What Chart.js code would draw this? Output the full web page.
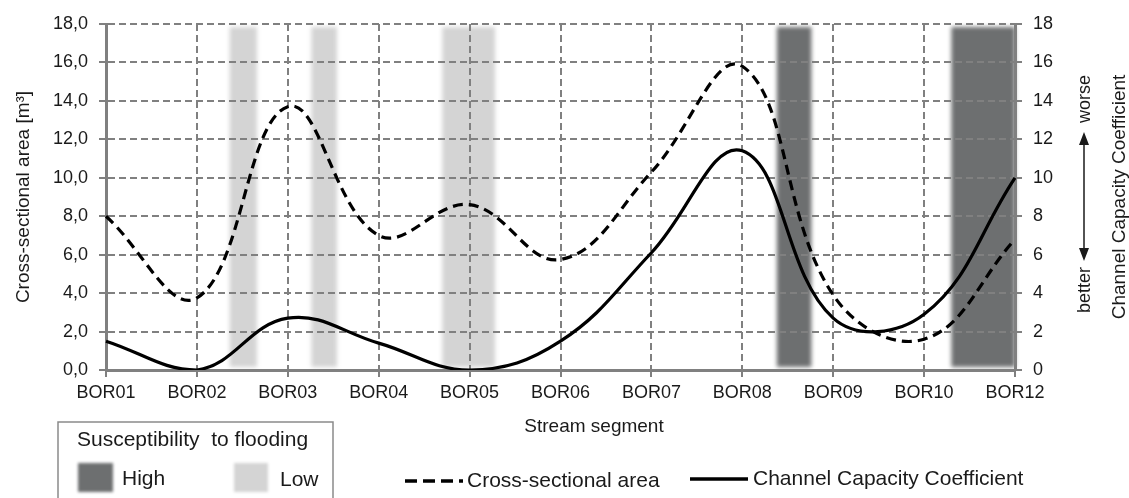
<!DOCTYPE html>
<html>
<head>
<meta charset="utf-8">
<script src="https://cdn.jsdelivr.net/npm/chart.js@4.4.1/dist/chart.umd.min.js"></script>
<style>
  body { margin: 0; background: #fff; }
  canvas { display: block; }
</style>
</head>
<body>
<canvas id="myChart" width="1129" height="498"></canvas>
<script>
// values
const segments = ['BOR01', 'BOR02', 'BOR03', 'BOR04', 'BOR05', 'BOR06', 'BOR07', 'BOR08', 'BOR09', 'BOR10', 'BOR12'];
const crossSectionalArea = [8.0, 3.75, 13.7, 7.0, 8.6, 5.75, 10.3, 15.8, 3.9, 1.6, 6.8];
const capacityCoefficient = [1.5, 0.0, 2.7, 1.4, 0.0, 1.5, 6.1, 11.4, 2.7, 2.9, 10.0];
const leftTicks = [0, 2, 4, 6, 8, 10, 12, 14, 16, 18];
const rightTicks = [0, 2, 4, 6, 8, 10, 12, 14, 16, 18];
// flooding susceptibility bands, given as positions on the segment axis (index units)
const highBands = [[7.38, 7.76], [9.30, 10.0]];
const lowBands = [[1.36, 1.66], [2.26, 2.54], [3.70, 4.28]];

const FONT = '"Liberation Sans", Arial, Helvetica, sans-serif';
const TEXT = '#1a1a1a';
const GRID = '#808080';
const HIGH_COLOR = '#6d6f70';
const LOW_COLOR = '#d4d4d4';

// shaded bands, painted under the grid
const bandsPlugin = {
    id: 'bands',
    beforeDraw(chart) {
        const ctx = chart.ctx;
        const x = chart.scales.x;
        const area = chart.chartArea;
        const paint = (bands, color) => {
            bands.forEach(b => {
                const x1 = x.getPixelForValue(b[0]);
                const x2 = x.getPixelForValue(b[1]);
                ctx.fillStyle = color;
                ctx.fillRect(x1, area.top + 3, x2 - x1, area.bottom - area.top - 6);
            });
        };
        ctx.save();
        ctx.filter = 'blur(2px)';
        paint(lowBands, LOW_COLOR);
        paint(highBands, HIGH_COLOR);
        ctx.restore();
    }
};

function rotatedText(ctx, text, x, y, size) {
    ctx.save();
    ctx.translate(x, y);
    ctx.rotate(-Math.PI / 2);
    ctx.font = size + 'px ' + FONT;
    ctx.textAlign = 'center';
    ctx.textBaseline = 'middle';
    ctx.fillText(text, 0, 0);
    ctx.restore();
}

// titles, the better/worse note and the two legends
const annotationsPlugin = {
    id: 'annotations',
    afterDraw(chart) {
        const ctx = chart.ctx;
        const area = chart.chartArea;
        const midY = (area.top + area.bottom) / 2;
        ctx.save();
        ctx.fillStyle = TEXT;

        rotatedText(ctx, 'Cross-sectional area [m³]', 24, midY, 19);
        rotatedText(ctx, 'Channel Capacity Coefficient', 1120, midY, 19);
        rotatedText(ctx, 'worse', 1085, 99, 18);
        rotatedText(ctx, 'better', 1085, 290, 18);

        // double arrow
        ctx.strokeStyle = TEXT;
        ctx.lineWidth = 1.5;
        ctx.beginPath();
        ctx.moveTo(1084, 140);
        ctx.lineTo(1084, 253);
        ctx.stroke();
        ctx.beginPath();
        ctx.moveTo(1084, 132); ctx.lineTo(1079, 145); ctx.lineTo(1089, 145); ctx.closePath();
        ctx.moveTo(1084, 261); ctx.lineTo(1079, 248); ctx.lineTo(1089, 248); ctx.closePath();
        ctx.fill();

        ctx.font = '19px ' + FONT;
        ctx.textAlign = 'center';
        ctx.textBaseline = 'alphabetic';
        ctx.fillText('Stream segment', 594, 432);

        // series legend
        const ds = chart.data.datasets;
        ctx.textAlign = 'left';
        ctx.textBaseline = 'middle';
        ctx.font = '21px ' + FONT;
        const items = [[ds[0], 405, 481, 467], [ds[1], 690, 479, 753]];
        items.forEach(it => {
            ctx.save();
            ctx.strokeStyle = it[0].borderColor;
            ctx.lineWidth = 3.5;
            ctx.setLineDash(it[0].borderDash ? [12, 6] : []);
            ctx.beginPath();
            ctx.moveTo(it[1], it[2]);
            ctx.lineTo(it[1] + 58, it[2]);
            ctx.stroke();
            ctx.restore();
            ctx.fillText(it[0].label, it[3], it[2]);
        });

        // susceptibility box
        ctx.strokeStyle = '#8a8a8a';
        ctx.lineWidth = 1.5;
        ctx.beginPath();
        ctx.moveTo(58, 500);
        ctx.lineTo(58, 422);
        ctx.lineTo(333, 422);
        ctx.lineTo(333, 500);
        ctx.stroke();
        ctx.fillText('Susceptibility  to flooding', 77, 440);
        ctx.save();
        ctx.filter = 'blur(1.5px)';
        ctx.fillStyle = HIGH_COLOR;
        ctx.fillRect(78, 463, 35, 29);
        ctx.fillStyle = LOW_COLOR;
        ctx.fillRect(234, 463, 34, 29);
        ctx.restore();
        ctx.fillText('High', 122, 479);
        ctx.fillText('Low', 280, 480);
        ctx.restore();
    }
};

const gridOpts = { color: GRID, lineWidth: 2, tickLength: 7, tickColor: GRID, tickWidth: 2 };
const borderOpts = { display: true, color: GRID, width: 3, dash: [7, 4] };

new Chart('myChart', {
    type: 'line',
    data: {
        labels: segments,
        datasets: [{
            label: 'Cross-sectional area',
            data: crossSectionalArea,
            yAxisID: 'y',
            borderColor: '#000',
            borderWidth: 3.2,
            borderDash: [10, 6],
            pointRadius: 0,
            tension: 0.4,
            fill: false
        }, {
            label: 'Channel Capacity Coefficient',
            data: capacityCoefficient,
            yAxisID: 'y1',
            borderColor: '#000',
            borderWidth: 3.2,
            pointRadius: 0,
            tension: 0.4,
            fill: false
        }]
    },
    options: {
        responsive: false,
        animation: false,
        layout: { padding: { top: 24, left: 0, right: 0, bottom: 0 } },
        plugins: {
            legend: { display: false },
            tooltip: { enabled: false }
        },
        scales: {
            x: {
                type: 'category',
                offset: false,
                grid: gridOpts,
                border: borderOpts,
                ticks: {
                    color: TEXT, font: { family: FONT, size: 18 },
                    padding: 5, maxRotation: 0, autoSkip: false
                },
                afterFit: s => { s.height = 128; }
            },
            y: {
                position: 'left',
                min: 0, max: 18,
                afterBuildTicks: s => { s.ticks = leftTicks.map(v => ({ value: v })); },
                grid: gridOpts,
                border: borderOpts,
                ticks: {
                    color: TEXT, font: { family: FONT, size: 18 }, padding: 11,
                    callback: v => v.toFixed(1).replace('.', ',')
                },
                afterFit: s => { s.width = 106; }
            },
            y1: {
                position: 'right',
                min: 0, max: 18,
                afterBuildTicks: s => { s.ticks = rightTicks.map(v => ({ value: v })); },
                grid: Object.assign({}, gridOpts, { drawOnChartArea: false }),
                border: { display: true, color: GRID, width: 3 },
                ticks: { color: TEXT, font: { family: FONT, size: 18 }, padding: 11 },
                afterFit: s => { s.width = 114; }
            }
        }
    },
    plugins: [bandsPlugin, annotationsPlugin]
});
</script>
</body>
</html>
